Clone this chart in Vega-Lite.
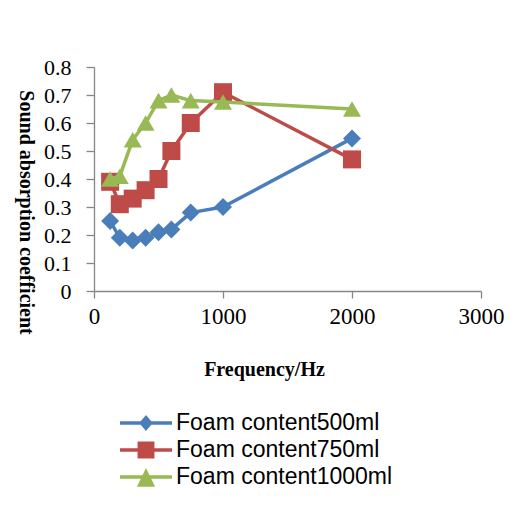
{
  "$schema": "https://vega.github.io/schema/vega-lite/v6.json",
  "width": 387,
  "height": 224,
  "autosize": {"type": "none"},
  "padding": {"left": 94, "top": 67, "right": 43, "bottom": 230},
  "background": "white",
  "config": {"view": {"stroke": null}},
  "data": {
    "values": [
      {"series": "Foam content500ml", "freq": 125, "value": 0.25},
      {"series": "Foam content500ml", "freq": 200, "value": 0.19},
      {"series": "Foam content500ml", "freq": 300, "value": 0.18},
      {"series": "Foam content500ml", "freq": 400, "value": 0.19},
      {"series": "Foam content500ml", "freq": 500, "value": 0.21},
      {"series": "Foam content500ml", "freq": 600, "value": 0.22},
      {"series": "Foam content500ml", "freq": 750, "value": 0.28},
      {"series": "Foam content500ml", "freq": 1000, "value": 0.30},
      {"series": "Foam content500ml", "freq": 2000, "value": 0.545},
      {"series": "Foam content750ml", "freq": 125, "value": 0.39},
      {"series": "Foam content750ml", "freq": 200, "value": 0.31},
      {"series": "Foam content750ml", "freq": 300, "value": 0.33},
      {"series": "Foam content750ml", "freq": 400, "value": 0.36},
      {"series": "Foam content750ml", "freq": 500, "value": 0.40},
      {"series": "Foam content750ml", "freq": 600, "value": 0.50},
      {"series": "Foam content750ml", "freq": 750, "value": 0.60},
      {"series": "Foam content750ml", "freq": 1000, "value": 0.71},
      {"series": "Foam content750ml", "freq": 2000, "value": 0.47},
      {"series": "Foam content1000ml", "freq": 125, "value": 0.40},
      {"series": "Foam content1000ml", "freq": 200, "value": 0.41},
      {"series": "Foam content1000ml", "freq": 300, "value": 0.54},
      {"series": "Foam content1000ml", "freq": 400, "value": 0.60},
      {"series": "Foam content1000ml", "freq": 500, "value": 0.68},
      {"series": "Foam content1000ml", "freq": 600, "value": 0.70},
      {"series": "Foam content1000ml", "freq": 750, "value": 0.68},
      {"series": "Foam content1000ml", "freq": 1000, "value": 0.675},
      {"series": "Foam content1000ml", "freq": 2000, "value": 0.65}
    ]
  },
  "encoding": {
    "x": {
      "field": "freq",
      "type": "quantitative",
      "scale": {"domain": [0, 3000], "nice": false, "zero": true},
      "axis": {
        "values": [0, 1000, 2000, 3000],
        "format": "d",
        "grid": false,
        "title": "Frequency/Hz",
        "titleX": 170,
        "titleY": 84,
        "titleAlign": "center",
        "titleBaseline": "alphabetic",
        "titleFont": "Liberation Serif",
        "titleFontSize": 20,
        "titleFontWeight": "bold",
        "titleColor": "black",
        "labelFont": "Liberation Serif",
        "labelFontSize": 23,
        "labelColor": "black",
        "labelPadding": 7,
        "labelFlush": false,
        "labelOverlap": false,
        "tickSize": 7,
        "tickColor": "#868686",
        "tickWidth": 1.3,
        "domainColor": "#868686",
        "domainWidth": 1.3
      }
    },
    "y": {
      "field": "value",
      "type": "quantitative",
      "scale": {"domain": [0, 0.8], "nice": false},
      "axis": {
        "values": [0, 0.1, 0.2, 0.3, 0.4, 0.5, 0.6, 0.7, 0.8],
        "labelExpr": "datum.value === 0 ? '0' : format(datum.value, '.1f')",
        "grid": false,
        "title": "Sound absorption coefficient",
        "titleAngle": 90,
        "titleX": -69,
        "titleY": 145,
        "titleAlign": "center",
        "titleBaseline": "middle",
        "titleFont": "Liberation Serif",
        "titleFontSize": 20,
        "titleFontWeight": "bold",
        "titleColor": "black",
        "labelFont": "Liberation Serif",
        "labelFontSize": 22,
        "labelColor": "black",
        "labelPadding": 15,
        "labelOverlap": false,
        "tickSize": 8,
        "tickColor": "#868686",
        "tickWidth": 1.3,
        "domainColor": "#868686",
        "domainWidth": 1.3
      }
    }
  },
  "layer": [
    {
      "transform": [{"filter": {"field": "series", "equal": "Foam content500ml"}}],
      "mark": {"type": "line", "color": "#4A7EBB", "strokeWidth": 3.5, "strokeJoin": "round", "strokeCap": "round"}
    },
    {
      "transform": [{"filter": {"field": "series", "equal": "Foam content500ml"}}],
      "mark": {"type": "point", "shape": "diamond", "filled": true, "opacity": 1, "size": 324, "color": "#4A7EBB"}
    },
    {
      "transform": [{"filter": {"field": "series", "equal": "Foam content750ml"}}],
      "mark": {"type": "line", "color": "#BE4B48", "strokeWidth": 3.5, "strokeJoin": "round", "strokeCap": "round"}
    },
    {
      "transform": [{"filter": {"field": "series", "equal": "Foam content750ml"}}],
      "mark": {"type": "point", "shape": "square", "filled": true, "opacity": 1, "size": 324, "color": "#BE4B48"}
    },
    {
      "transform": [{"filter": {"field": "series", "equal": "Foam content1000ml"}}],
      "mark": {"type": "line", "color": "#98B954", "strokeWidth": 3.5, "strokeJoin": "round", "strokeCap": "round"}
    },
    {
      "transform": [{"filter": {"field": "series", "equal": "Foam content1000ml"}}],
      "mark": {"type": "point", "shape": "triangle-up", "filled": true, "opacity": 1, "size": 324, "color": "#98B954"}
    },
    {
      "transform": [{"filter": "false"}],
      "mark": {"type": "point", "filled": true, "opacity": 1},
      "encoding": {
        "color": {
          "field": "series",
          "type": "nominal",
          "scale": {
            "domain": ["Foam content500ml", "Foam content750ml", "Foam content1000ml"],
            "range": ["#4A7EBB", "#BE4B48", "#98B954"]
          },
          "legend": {
            "title": null,
            "orient": "none",
            "legendX": 39,
            "legendY": 343,
            "padding": 0,
            "symbolSize": 676,
            "symbolStrokeWidth": 0,
            "symbolOpacity": 1,
            "labelFont": "Liberation Sans",
            "labelFontSize": 23,
            "labelColor": "black",
            "labelOffset": 17,
            "labelLimit": 400,
            "rowPadding": 2
          }
        },
        "shape": {
          "field": "series",
          "type": "nominal",
          "scale": {
            "domain": ["Foam content500ml", "Foam content750ml", "Foam content1000ml"],
            "range": [
              "M-2,-0.13L2,-0.13L2,0.13L-2,0.13Z M0,-0.62L0.52,0L0,0.62L-0.52,0Z",
              "M-2,-0.13L2,-0.13L2,0.13L-2,0.13Z M-0.65,-0.65L0.65,-0.65L0.65,0.65L-0.65,0.65Z",
              "M-2,-0.13L2,-0.13L2,0.13L-2,0.13Z M0,-0.7L0.7,0.75L-0.7,0.75Z"
            ]
          },
          "legend": {
            "title": null,
            "orient": "none",
            "legendX": 39,
            "legendY": 343,
            "padding": 0,
            "symbolSize": 676,
            "symbolStrokeWidth": 0,
            "symbolOpacity": 1,
            "labelFont": "Liberation Sans",
            "labelFontSize": 23,
            "labelColor": "black",
            "labelOffset": 17,
            "labelLimit": 400,
            "rowPadding": 2
          }
        }
      }
    }
  ]
}
